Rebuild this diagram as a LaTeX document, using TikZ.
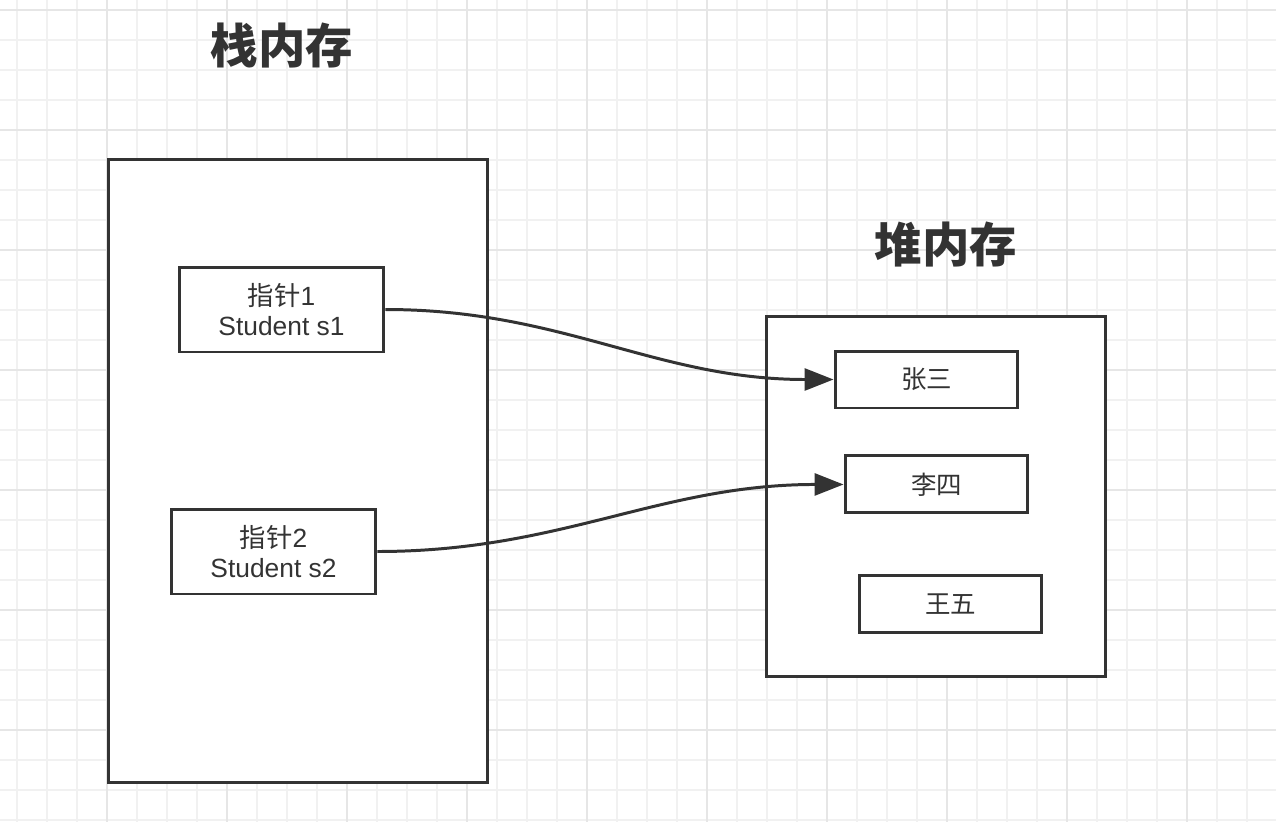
\documentclass[tikz,border=0pt]{standalone}
\usepackage{fontspec}
\setmainfont{Liberation Sans}
\newfontfamily\cjk{Noto Sans CJK SC}
\usetikzlibrary{positioning, arrows.meta}
\definecolor{ink}{HTML}{333333}
\definecolor{gridminor}{HTML}{F1F1F1}
\definecolor{gridmajor}{HTML}{E6E6E6}

\begin{document}
\begin{tikzpicture}[x=0.02cm, y=-0.02cm,
  area/.style={draw=ink, line width=1.7pt, fill=white},
  ptr/.style={area, minimum width=4.1cm, minimum height=1.7cm, align=center, text=ink, font=\fontsize{15pt}{17pt}\selectfont},
  obj/.style={area, minimum width=3.66cm, minimum height=1.14cm, text=ink, font=\cjk\fontsize{14.5pt}{17pt}\selectfont},
  title/.style={text=ink, font=\cjk\bfseries\fontsize{27pt}{30pt}\selectfont},
  link/.style={draw=ink, line width=1.7pt, -{Triangle[length=5.8mm, width=4.4mm]}}]

\useasboundingbox (0,0) rectangle (1276,822);
\fill[white] (0,0) rectangle (1276,822);

% grid paper
\foreach \gx in {17,47,...,1276} \draw[gridminor, line width=0.6pt] (\gx,0) -- (\gx,822);
\foreach \gy in {10,40,...,822} \draw[gridminor, line width=0.6pt] (0,\gy) -- (1276,\gy);
\foreach \gx in {107,227,...,1276} \draw[gridmajor, line width=0.6pt] (\gx,0) -- (\gx,822);
\foreach \gy in {10,130,...,822} \draw[gridmajor, line width=0.6pt] (0,\gy) -- (1276,\gy);

% stack
\node (stack) [area, minimum width=7.6cm, minimum height=12.48cm] at (298,471) {};
\node (stacktitle) [title] at (282,45) {栈内存};
\node (p1) [ptr] at (281.5,309.5) {{\cjk 指针}1\\Student s1};
\node (p2) [ptr] at (273.5,551.5) {{\cjk 指针}2\\Student s2};

% heap
\node (heap) [area, minimum width=6.8cm, minimum height=7.22cm] at (936,496.5) {};
\node (heaptitle) [title] at (946,244) {堆内存};
\node (zs) [obj] at (926.5,379.5) {张三};
\node (ls) [obj, below=0.9cm of zs, xshift=0.2cm] {李四};
\node (ww) [obj, below=1.2cm of ls, xshift=0.28cm] {王五};

\draw[link] (p1.east) to[out=0, in=180] (zs.west);
\draw[link] (p2.east) to[out=0, in=180] (ls.west);

\end{tikzpicture}
\end{document}
